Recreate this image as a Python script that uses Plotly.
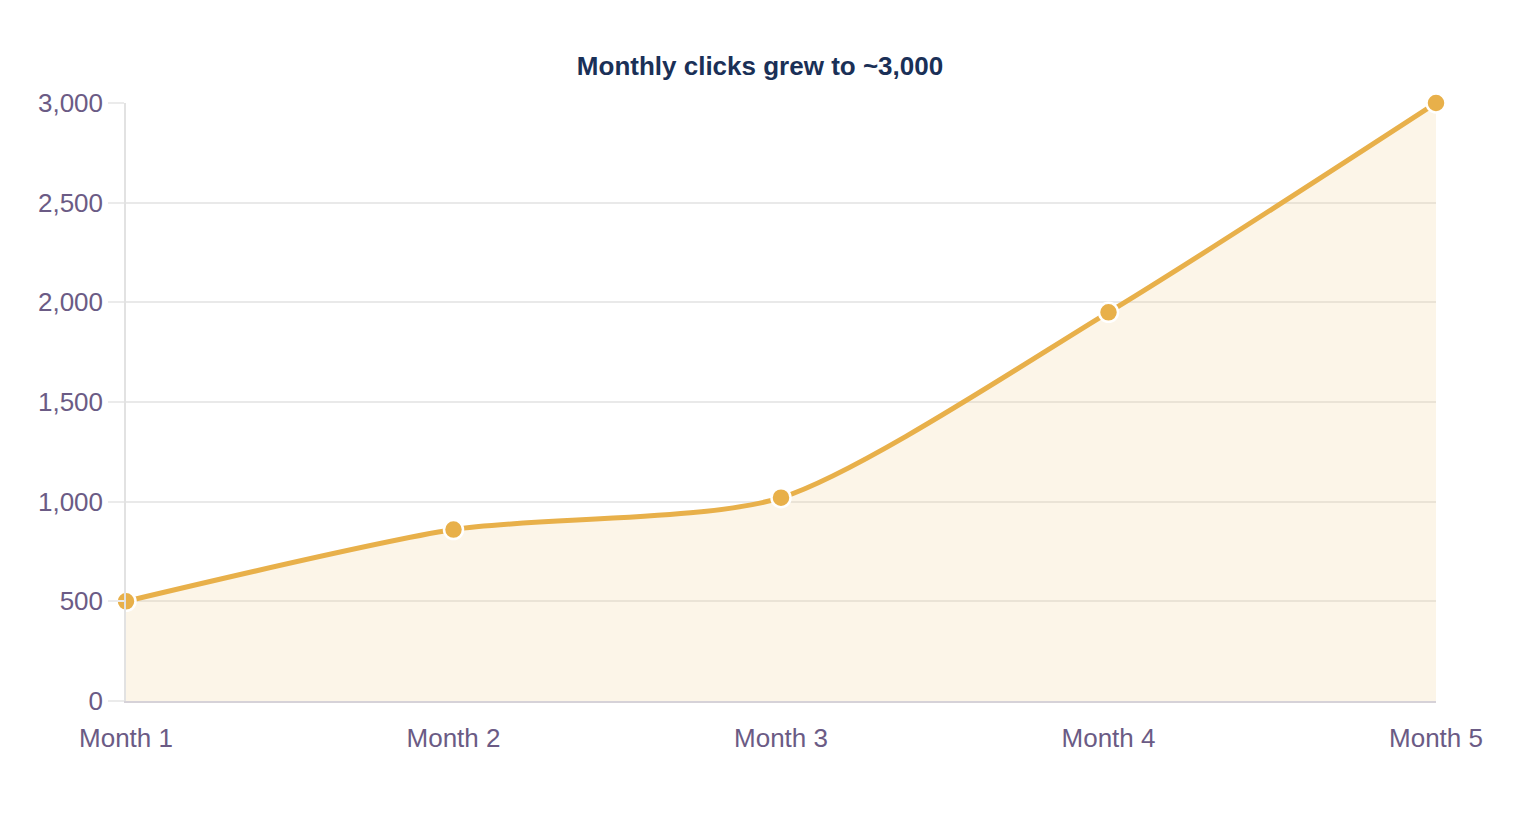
import plotly.graph_objects as go

months = ["Month 1", "Month 2", "Month 3", "Month 4", "Month 5"]
clicks = [500, 860, 1020, 1950, 3000]
y_ticks = [0, 500, 1000, 1500, 2000, 2500, 3000]

line_color = "#e8b04a"
label_color = "#6b5b85"

fig = go.Figure()
fig.add_trace(go.Scatter(
    x=months, y=clicks,
    mode="lines+markers",
    line=dict(color=line_color, width=5, shape="spline", smoothing=0.7),
    marker=dict(size=19, color=line_color, line=dict(color="white", width=2.5)),
    fill="tozeroy",
    fillcolor="rgba(240,200,130,0.18)",
    cliponaxis=False,
    hoverinfo="x+y",
))

fig.update_layout(
    width=1520, height=840,
    paper_bgcolor="white", plot_bgcolor="white",
    margin=dict(l=118, r=92, t=95, b=147),
    font=dict(family="Liberation Sans, Arial, sans-serif", size=26, color=label_color),
    title=dict(text="<b>Monthly clicks grew to ~3,000</b>",
               x=752 / 1520, xanchor="center", y=1 - 58 / 840, yanchor="middle",
               yref="container", font=dict(size=26, color="#1a3057")),
    showlegend=False,
)
fig.update_xaxes(
    showgrid=False, showline=True, linecolor="#d6d2d8", linewidth=2,
    ticks="", ticklabelstandoff=13, range=[0, 4], zeroline=False,
)
fig.update_yaxes(
    range=[0, 3000], tickvals=y_ticks, tickformat=",",
    showgrid=True, gridcolor="#e9e9e9", gridwidth=1.5,
    showline=True, linecolor="#e2e2e2", linewidth=1.5,
    ticks="outside", ticklen=16, tickcolor="#ebebeb", tickwidth=1.5,
    zeroline=False,
)

fig.write_html("out.html")
